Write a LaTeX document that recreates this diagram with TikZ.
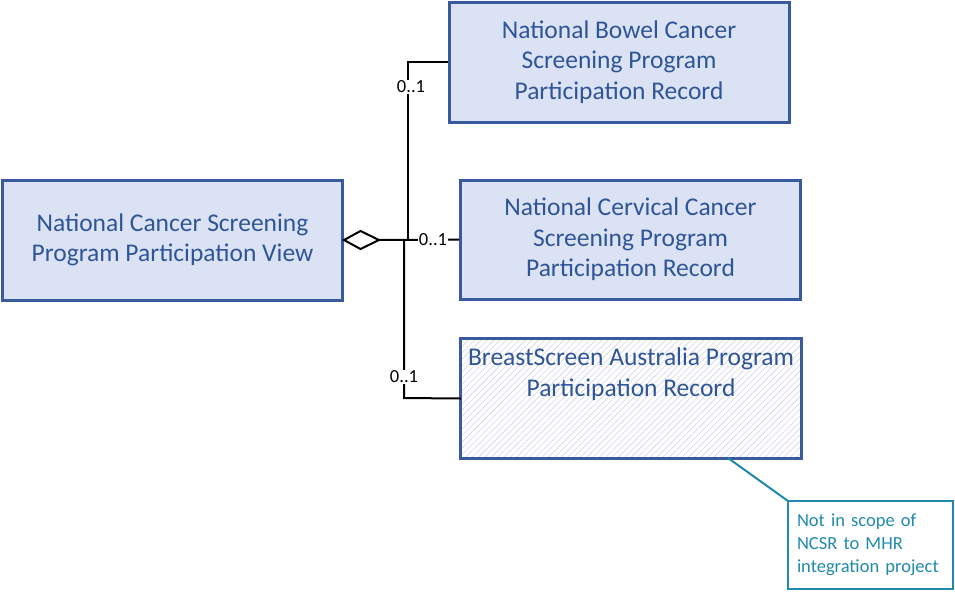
\documentclass[tikz,border=0pt]{standalone}
\usepackage{fontspec}
\setmainfont{Carlito}
\usetikzlibrary{patterns.meta}
\definecolor{boxfill}{HTML}{DAE2F3}
\definecolor{boxline}{HTML}{3A5A9E}
\definecolor{boxtext}{HTML}{2F5597}
\definecolor{notecol}{HTML}{2089AD}
\definecolor{hatchcol}{HTML}{D0D6E4}
\tikzset{
  entity/.style={draw=boxline, line width=3pt, fill=boxfill, text=boxtext,
    font=\fontsize{25.5}{30.5}\selectfont, align=center, inner sep=0pt},
  mult/.style={fill=white, font=\fontsize{18.5}{20}\selectfont, inner sep=1pt, text=black},
  conn/.style={draw=black, line width=2pt},
}
\begin{document}
\begin{tikzpicture}[x=1pt,y=-1pt]
\useasboundingbox (0,0) rectangle (955,592);
% boxes
\node[entity, minimum width=340pt, minimum height=120pt] (view) at (172.5,240) {National Cancer Screening\\Program Participation View};
\node[entity, minimum width=340pt, minimum height=120pt] (bowel) at (619,62) {National Bowel Cancer\\Screening Program\\Participation Record};
\node[entity, minimum width=340pt, minimum height=119pt] (cerv) at (630.5,239.5) {National Cervical Cancer\\Screening Program\\Participation Record};
% breastscreen hatched box
\node[fill=white, minimum width=340pt, minimum height=119pt, inner sep=0pt] (breast) at (631,398.5) {};
\fill[pattern={Lines[angle=45,distance=4.5pt,line width=0.6pt]}, pattern color=hatchcol]
  (breast.north west) rectangle (breast.south east);
\draw[boxline, line width=3pt] (breast.north west) rectangle (breast.south east);
\node[text=boxtext, font=\fontsize{25.5}{31}\selectfont, align=center, anchor=north, inner sep=0pt] (breasttext) at ([yshift=-9pt]breast.north) {BreastScreen Australia Program\\Participation Record};
% note
\node[draw=notecol, line width=2pt, text=notecol, font=\fontsize{18.5}{22.8}\selectfont, align=left,
  minimum width=165pt, minimum height=88pt, text width=147pt, inner sep=0pt] (note) at (870.5,545) {Not in scope of\\NCSR to MHR\\integration project};
\coordinate (noteanchor) at (728,458);
\coordinate (notecorner) at (788,501);
\draw[notecol, line width=2pt] (noteanchor) -- (notecorner);
% aggregation diamond
\coordinate (dtip) at (view.east);
\coordinate (dend) at (379,240);
\draw[conn, fill=white] (dtip) -- (360.5,231) -- (dend) -- (360.5,249) -- cycle;
% connectors
\coordinate (jU) at (408,240);
\coordinate (jL) at (404,240);
\draw[conn] (dend) -- (cerv.west);
\draw[conn] (jU) -- (408,62) -- (bowel.west);
\draw[conn] (jL) -- (404,398) -- (breast.west);
% multiplicities
\node[mult] (m1) at (411,87) {0..1};
\node[mult] (m2) at (433,240) {0..1};
\node[mult] (m3) at (404,377) {0..1};
\end{tikzpicture}
\end{document}
